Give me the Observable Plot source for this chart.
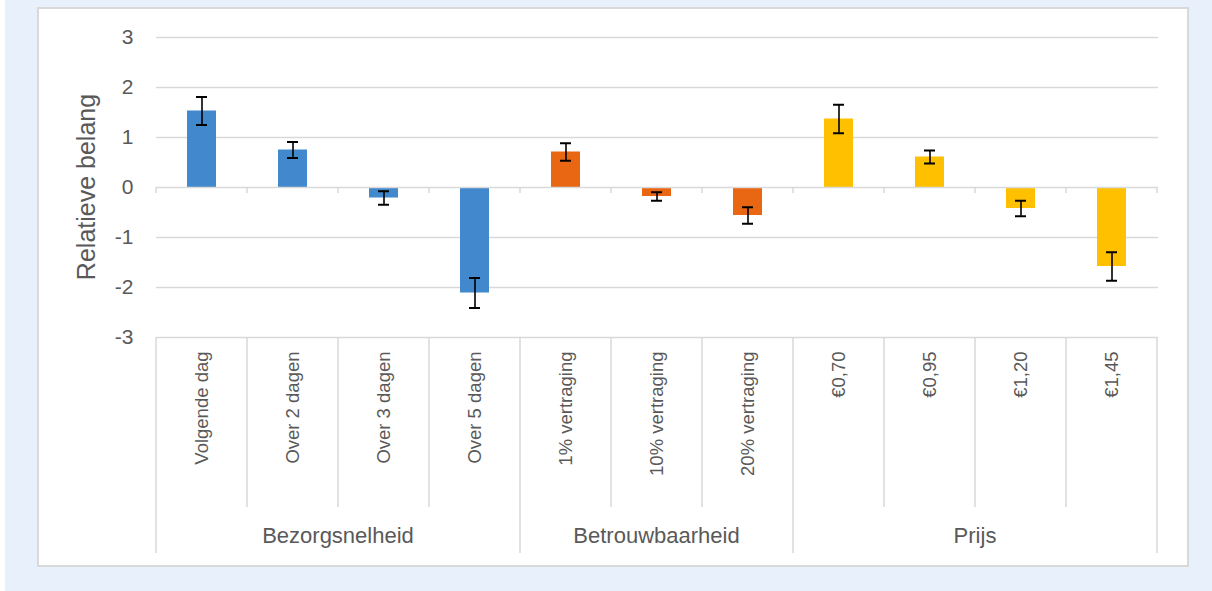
<!DOCTYPE html>
<html>
<head>
<meta charset="utf-8">
<script src="https://cdn.jsdelivr.net/npm/d3@7"></script>
<script src="https://cdn.jsdelivr.net/npm/@observablehq/plot@0.6"></script>
<style>
  html, body { margin: 0; padding: 0; background: #ffffff; width: 1212px; height: 591px; overflow: hidden; }
  #bg { position: absolute; left: 5px; top: 0; width: 1207px; height: 591px; background: #E8F0FC; }
  #panel { position: absolute; left: 37px; top: 7px; width: 1152px; height: 560px; box-sizing: border-box; background: #fff; border: 2px solid #D9D9D9; }
  #chart { position: absolute; left: 38px; top: 8px; }
  svg text { font-family: "Liberation Sans", Arial, sans-serif; }
</style>
</head>
<body>
<div id="bg"></div>
<div id="panel"></div>
<div id="chart"></div>
<script>
const categories = ["Volgende dag", "Over 2 dagen", "Over 3 dagen", "Over 5 dagen",
  "1% vertraging", "10% vertraging", "20% vertraging",
  "€0,70", "€0,95", "€1,20", "€1,45"];
const groupOf = ["Bezorgsnelheid", "Bezorgsnelheid", "Bezorgsnelheid", "Bezorgsnelheid",
  "Betrouwbaarheid", "Betrouwbaarheid", "Betrouwbaarheid",
  "Prijs", "Prijs", "Prijs", "Prijs"];
const values = [1.53, 0.75, -0.21, -2.11, 0.71, -0.18, -0.56, 1.37, 0.61, -0.42, -1.58];
const errors = [0.28, 0.16, 0.135, 0.30, 0.175, 0.085, 0.165, 0.285, 0.13, 0.155, 0.285];
const groupNames = ["Bezorgsnelheid", "Betrouwbaarheid", "Prijs"];
const groupColors = ["#4188CC", "#E96712", "#FFC000"];
const yTicks = [-3, -2, -1, 0, 1, 2, 3];
const yTitle = "Relatieve belang";

const data = categories.map((c, i) => ({
  cat: c, group: groupOf[i], value: values[i],
  lo: values[i] - errors[i], hi: values[i] + errors[i]
}));

const W = 1150, H = 558;
const plot = Plot.plot({
  width: W, height: H,
  marginLeft: 118, marginRight: 30, marginTop: 29, marginBottom: 229,
  style: { background: "transparent", overflow: "visible", fontSize: "21px" },
  x: { domain: categories, paddingInner: 0.68, paddingOuter: 0.34, axis: null },
  y: { domain: [-3, 3], axis: null },
  color: { domain: groupNames, range: groupColors },
  marks: [
    Plot.ruleY(yTicks.filter(d => d !== 0), { stroke: "#D9D9D9", strokeWidth: 1.5 }),
    Plot.barY(data, { x: "cat", y: "value", fill: "group" }),
    Plot.ruleY([0], { stroke: "#D9D9D9", strokeWidth: 1.6 }),
    Plot.ruleX(data, { x: "cat", y1: "lo", y2: "hi", stroke: "#000", strokeWidth: 1.6 }),
    Plot.tickY(data, { x: "cat", y: "lo", stroke: "#000", strokeWidth: 2, insetLeft: 9, insetRight: 9 }),
    Plot.tickY(data, { x: "cat", y: "hi", stroke: "#000", strokeWidth: 2, insetLeft: 9, insetRight: 9 }),
    Plot.axisY({ ticks: yTicks, tickSize: 0, tickPadding: 23, fontSize: 21, fill: "#595959", label: null, tickFormat: d => String(d), ariaLabel: "yticks" }),
    Plot.text(categories, { x: d => d, y: () => -3, dy: 14, rotate: -90, textAnchor: "end", fontSize: 18.5, fill: "#595959" })
  ]
});
document.getElementById("chart").appendChild(plot);

// Multi-level category axis: separators, boundary ticks, group labels, y title
const xs = plot.scale("x"), ys = plot.scale("y");
const step = xs.step, bw = xs.bandwidth;
const center = c => xs.apply(c) + bw / 2;
const svg = d3.select(plot);
svg.selectAll('g[aria-label="yticks"]').attr("font-size", 21).selectAll("text").attr("font-size", 21);
const g = svg.append("g");
const bounds = categories.map(c => center(c) - step / 2).concat([center(categories[categories.length - 1]) + step / 2]);
const groupStarts = new Set([0, bounds.length - 1]);
groupOf.forEach((gname, i) => { if (i > 0 && gname !== groupOf[i - 1]) groupStarts.add(i); });
const yBottom = ys.apply(-3), yZero = ys.apply(0);
bounds.forEach((bx, i) => {
  g.append("line").attr("x1", bx).attr("x2", bx)
    .attr("y1", yBottom).attr("y2", yBottom + (groupStarts.has(i) ? 216 : 170))
    .attr("stroke", "#D9D9D9").attr("stroke-width", 1.5);
  g.append("line").attr("x1", bx).attr("x2", bx)
    .attr("y1", yZero).attr("y2", yZero + 6)
    .attr("stroke", "#D9D9D9").attr("stroke-width", 1.5);
});
groupNames.forEach(gname => {
  const cats = categories.filter((c, i) => groupOf[i] === gname);
  const cx = (center(cats[0]) + center(cats[cats.length - 1])) / 2;
  g.append("text").attr("x", cx).attr("y", yBottom + 200)
    .attr("text-anchor", "middle").attr("dominant-baseline", "middle")
    .attr("font-size", 22).attr("fill", "#595959").text(gname);
});
svg.append("text")
  .attr("transform", `translate(50,${(ys.apply(3) + ys.apply(-3)) / 2}) rotate(-90)`)
  .attr("text-anchor", "middle").attr("dominant-baseline", "middle")
  .attr("font-size", 25).attr("fill", "#595959").text(yTitle);
svg.selectAll("text").style("font-family", '"Liberation Sans", Arial, sans-serif');
</script>
</body>
</html>
